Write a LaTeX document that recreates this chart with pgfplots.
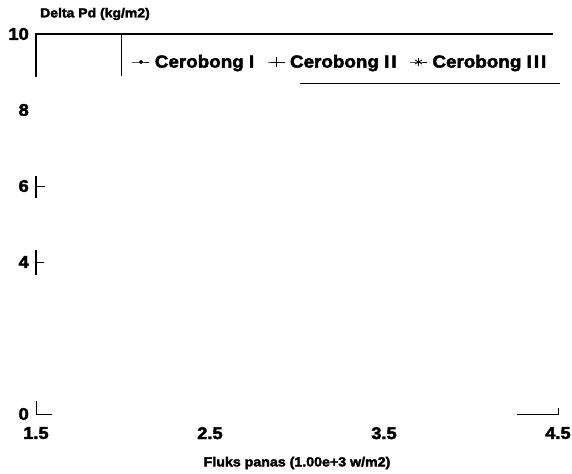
\documentclass[border=0pt]{standalone}
\usepackage{fontspec}
\usepackage{pgfplots}
\pgfplotsset{compat=1.18}
\newfontfamily\cf{Liberation Sans}[FakeStretch=1.08, FakeBold=2.5]
\newcommand{\tickf}{\fontsize{17}{20}\selectfont\cf\bfseries}
\newcommand{\legf}{\fontsize{17.5}{20}\selectfont\cf\bfseries}
\newcommand{\labf}{\fontsize{13}{15}\selectfont\cf\bfseries}
\newcommand{\xlabf}{\fontsize{13.2}{15}\selectfont\cf\bfseries}
\newcommand{\II}{I\kern2bp I}
\newcommand{\III}{I\kern2bp I\kern2bp I}
\begin{document}
\begin{tikzpicture}
\begin{axis}[
  at={(0,0)}, anchor=south west,
  scale only axis, width=522bp, height=380bp,
  xmin=1.5, xmax=4.5, ymin=0, ymax=10,
  xtick={1.5,2.5,3.5,4.5}, ytick={0,4,6,8,10},
  xticklabels={1.5,2.5,3.5,4.5},
  yticklabels={0,4,6,8,10},
  axis line style={draw=none},
  major tick style={draw=none},
  xticklabel style={font=\tickf, anchor=north, inner sep=0pt, yshift=-13bp},
  yticklabel style={font=\tickf, anchor=east, inner sep=0pt, xshift=-7bp},
  clip=false,
  legend columns=3,
  legend style={draw=none, fill=none, inner sep=0pt, outer sep=0pt,
    at={(axis cs:2.052,9.263)}, anchor=west, font=\legf,
    nodes={inner sep=0pt},
    /tikz/every odd column/.append style={column sep=5bp},
    /tikz/every even column/.append style={column sep=13bp}},
]
\addlegendimage{black, line width=0.8bp, mark=*, mark size=1.6bp}
\addlegendentry{Cerobong I}
\addlegendimage{black, line width=0.8bp, mark=+, mark size=5bp, mark options={line width=0.8bp}}
\addlegendentry{Cerobong \II}
\addlegendimage{black, line width=0.8bp, mark=asterisk, mark size=4bp, mark options={line width=0.8bp}}
\addlegendentry{Cerobong \III}
% surviving fragments of the frame
\draw[line width=1.3bp] (axis cs:1.5,8.87) -- (axis cs:1.5,10) -- (axis cs:4.47,10);
\draw[line width=1.1bp] (axis cs:1.99,10) -- (axis cs:1.99,8.89);
\draw[line width=1.4bp] (axis cs:3.02,8.70) -- (axis cs:4.51,8.70);
\draw[line width=1.1bp] (axis cs:1.5,6.263) -- (axis cs:1.5,5.684);
\draw[line width=0.9bp] (axis cs:1.5,6) -- (axis cs:1.552,6);
\draw[line width=1.1bp] (axis cs:1.5,4.316) -- (axis cs:1.5,3.658);
\draw[line width=0.9bp] (axis cs:1.5,4) -- (axis cs:1.546,4);
\draw[line width=1bp] (axis cs:1.5,0.342) -- (axis cs:1.5,0) -- (axis cs:1.592,0);
\draw[line width=1bp] (axis cs:4.264,0) -- (axis cs:4.5,0) -- (axis cs:4.5,0.158);
\node[font=\labf, anchor=west, inner sep=0pt] at (axis cs:1.523,10.526) {Delta Pd (kg/m2)};
\node[font=\xlabf, inner sep=0pt] at (axis cs:3.0,-1.289) {Fluks panas (1.00e+3 w/m2)};
\end{axis}
\pgfresetboundingbox
\path (-36bp,-60bp) rectangle (536bp,414bp);
\end{tikzpicture}
\end{document}
